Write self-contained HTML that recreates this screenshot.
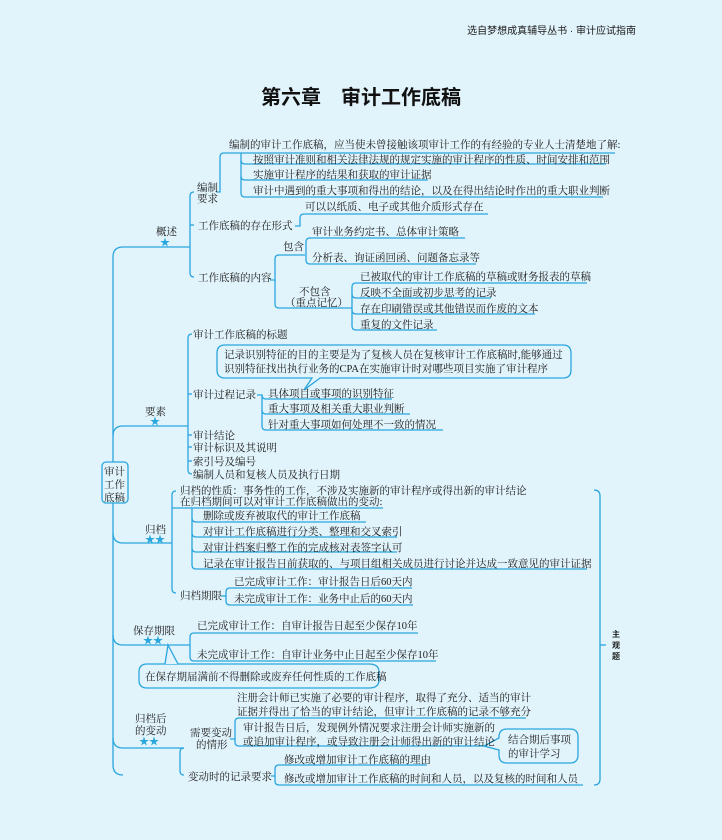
<!DOCTYPE html>
<html><head><meta charset="utf-8"><style>
html,body{margin:0;padding:0;background:#e1f3fb;}
svg{display:block}
text{font-family:"Liberation Serif","Noto Serif CJK SC",serif;font-size:10.5px;fill:#1a1a1a;}
.h{font-family:"Liberation Sans","Noto Sans CJK SC",sans-serif;}
</style></head><body>
<svg width="722" height="840" viewBox="0 0 722 840" xmlns="http://www.w3.org/2000/svg">
<rect width="722" height="840" fill="#e1f3fb"/>
<text class="h" x="636" y="34" text-anchor="end" style="font-size:10px">选自梦想成真辅导丛书 · 审计应试指南</text>
<text class="h" x="361" y="104" text-anchor="middle" style="font-size:20px;font-weight:bold;fill:#111">第六章　审计工作底稿</text>

<g fill="none" stroke="#29a6de" stroke-width="1.3">
<path d="M113,462 L113,257 Q113,247 123,247 L190,247"/>
<path d="M113,503 L113,765 Q113,775 123,775"/>
<path d="M113,436 Q113,426 123,426 L188,426"/>
<path d="M113,533 Q113,543 123,543 L172,543"/>
<path d="M113,635 Q113,645 123,645 L190,645"/>
<path d="M113,738 Q113,748 123,748 L180,748"/>
<rect x="102" y="462" width="26" height="41" rx="4"/>
<path d="M194,192 Q190,192 190,196 L190,273 Q190,277 194,277"/>
<path d="M190,225 L194,225"/>
<path d="M217,192 L220,192 L220,157 Q220,153 224,153 L615,153"/>
<path d="M241,153 L241,193 Q241,197 245,197 L603,197"/>
<path d="M241,160 Q241,164 245,164 L606,164"/>
<path d="M241,176 Q241,180 245,180 L428,180"/>
<path d="M295,226 L300,226 L300,218 Q300,214 304,214 L488,214"/>
<path d="M270,280 L275,280 L275,259 Q275,255 279,255 L305,255"/>
<path d="M275,280 L275,304 Q275,308 279,308 L350,308"/>
<path d="M306,255 L306,242 Q306,238 310,238 L465,238"/>
<path d="M306,255 L306,260 Q306,264 310,264 L476,264"/>
<path d="M350,308 L352,308 L352,287 Q352,283 356,283 L587,283"/>
<path d="M352,294 Q352,298 356,298 L491,298"/>
<path d="M352,310 Q352,314 356,314 L535,314"/>
<path d="M352,308 L352,326 Q352,330 356,330 L437,330"/>
<path d="M192,334 Q188,334 188,338 L188,470 Q188,474 192,474"/>
<path d="M188,394 L192,394"/><path d="M188,435 L192,435"/><path d="M188,447 L192,447"/><path d="M188,461 L192,461"/>
<path d="M225,345 L563,345 Q571,345 571,353 L571,370 Q571,378 563,378 L320,378 L304,390 L312,378 L225,378 Q217,378 217,370 L217,353 Q217,345 225,345 Z"/>
<path d="M257,395 L262,395 L262,395 Q262,399 266,399 L392,399"/>
<path d="M262,395 L262,410 Q262,414 266,414 L410,414"/>
<path d="M262,410 L262,426 Q262,430 266,430 L443,430"/>
<path d="M176,491 Q172,491 172,495 L172,589 Q172,593 176,593"/>
<path d="M172,508 L383,508"/>
<path d="M192,508 L192,518 Q192,522 196,522 L366,522"/>
<path d="M192,518 L192,533 Q192,537 196,537 L397,537"/>
<path d="M192,533 L192,548 Q192,552 196,552 L397,552"/>
<path d="M192,548 L192,565 Q192,569 196,569 L587,569"/>
<path d="M221,596 L226,596 L226,592 Q226,588 230,588 L412,588"/>
<path d="M226,596 L226,601 Q226,605 230,605 L413,605"/>
<path d="M594,490 Q600,490 600,496 L600,779 Q600,785 594,785"/>
<path d="M600,645 L606,645"/>
<path d="M190,645 L190,637 Q190,633 194,633 L418,633"/>
<path d="M190,645 L190,657 Q190,661 194,661 L436,661"/>
<path d="M147,664 L369,664 Q379,664 379,672 L379,680 Q379,688 369,688 L147,688 Q139,688 139,680 L139,672 Q139,664 147,664 Z"/>
<path d="M165,664 L168,645 L178,664" fill="#e1f3fb"/>
<path d="M184,748 Q180,748 180,752 L180,771 Q180,775 184,775"/>
<path d="M180,748 L184,748"/>
<path d="M230,739 L235,739 L235,722 Q235,718 239,718 L526,718"/>
<path d="M235,739 L235,742 Q235,746 239,746 L484,746"/>
<path d="M507,729 L570,729 Q578,729 578,737 L578,755 Q578,763 570,763 L507,763 Q499,763 499,755 L499,750 L484,746 L499,738 L499,737 Q499,729 507,729 Z"/>
<path d="M271,776 L275,776 L275,769 Q275,765 279,765 L427,765"/>
<path d="M275,776 L275,781 Q275,785 279,785 L583,785"/>
</g>

<text x="156" y="235">概述</text>
<text x="160" y="246" style="fill:#29a6de;font-size:10px">★</text>
<text x="197" y="191">编制</text><text x="197" y="202">要求</text>
<text x="229" y="148">编制的审计工作底稿，应当使未曾接触该项审计工作的有经验的专业人士清楚地了解:</text>
<text x="253" y="163">按照审计准则和相关法律法规的规定实施的审计程序的性质、时间安排和范围</text>
<text x="253" y="178">实施审计程序的结果和获取的审计证据</text>
<text x="253" y="194">审计中遇到的重大事项和得出的结论，以及在得出结论时作出的重大职业判断</text>
<text x="198" y="229">工作底稿的存在形式</text>
<text x="305" y="210">可以以纸质、电子或其他介质形式存在</text>
<text x="198" y="281">工作底稿的内容</text>
<text x="283" y="250">包含</text>
<text x="312" y="235">审计业务约定书、总体审计策略</text>
<text x="312" y="261">分析表、询证函回函、问题备忘录等</text>
<text x="299" y="295">不包含</text><text x="285" y="306">（重点记忆）</text>
<text x="360" y="280">已被取代的审计工作底稿的草稿或财务报表的草稿</text>
<text x="360" y="296">反映不全面或初步思考的记录</text>
<text x="360" y="312">存在印刷错误或其他错误而作废的文本</text>
<text x="360" y="328">重复的文件记录</text>

<text x="145" y="415">要素</text>
<text x="150" y="425" style="fill:#29a6de;font-size:10px">★</text>
<text x="193" y="338">审计工作底稿的标题</text>
<text x="224" y="358">记录识别特征的目的主要是为了复核人员在复核审计工作底稿时,能够通过</text>
<text x="224" y="372">识别特征找出执行业务的CPA在实施审计时对哪些项目实施了审计程序</text>
<text x="193" y="398">审计过程记录</text>
<text x="268" y="397">具体项目或事项的识别特征</text>
<text x="268" y="412">重大事项及相关重大职业判断</text>
<text x="268" y="428">针对重大事项如何处理不一致的情况</text>
<text x="193" y="439">审计结论</text>
<text x="193" y="451">审计标识及其说明</text>
<text x="193" y="465">索引号及编号</text>
<text x="193" y="478">编制人员和复核人员及执行日期</text>
<text x="104" y="475">审计</text><text x="104" y="488">工作</text><text x="104" y="501">底稿</text>

<text x="145" y="533">归档</text>
<text x="145" y="543" style="fill:#29a6de;font-size:10px">★★</text>
<text x="180" y="494">归档的性质：事务性的工作，不涉及实施新的审计程序或得出新的审计结论</text>
<text x="180" y="505">在归档期间可以对审计工作底稿做出的变动:</text>
<text x="203" y="519">删除或废弃被取代的审计工作底稿</text>
<text x="203" y="535">对审计工作底稿进行分类、整理和交叉索引</text>
<text x="203" y="551">对审计档案归整工作的完成核对表签字认可</text>
<text x="203" y="567">记录在审计报告日前获取的、与项目组相关成员进行讨论并达成一致意见的审计证据</text>
<text x="180" y="599">归档期限</text>
<text x="234" y="585">已完成审计工作：审计报告日后60天内</text>
<text x="234" y="602">未完成审计工作：业务中止后的60天内</text>
<text class="h" x="612" y="637" style="font-size:8px;font-weight:bold">主</text>
<text class="h" x="612" y="648" style="font-size:8px;font-weight:bold">观</text>
<text class="h" x="612" y="659" style="font-size:8px;font-weight:bold">题</text>

<text x="133" y="634">保存期限</text>
<text x="143" y="644" style="fill:#29a6de;font-size:10px">★★</text>
<text x="197" y="629">已完成审计工作：自审计报告日起至少保存10年</text>
<text x="197" y="658">未完成审计工作：自审计业务中止日起至少保存10年</text>
<text x="145" y="680">在保存期届满前不得删除或废弃任何性质的工作底稿</text>

<text x="135" y="722">归档后</text><text x="135" y="734">的变动</text>
<text x="139" y="745" style="fill:#29a6de;font-size:10px">★★</text>
<text x="190" y="736">需要变动</text><text x="196" y="748">的情形</text>
<text x="237" y="701">注册会计师已实施了必要的审计程序，取得了充分、适当的审计</text>
<text x="237" y="715">证据并得出了恰当的审计结论，但审计工作底稿的记录不够充分</text>
<text x="243" y="731">审计报告日后，发现例外情况要求注册会计师实施新的</text>
<text x="243" y="745">或追加审计程序，或导致注册会计师得出新的审计结论</text>
<text x="508" y="743">结合期后事项</text><text x="508" y="757">的审计学习</text>
<text x="188" y="780">变动时的记录要求</text>
<text x="284" y="763">修改或增加审计工作底稿的理由</text>
<text x="284" y="782">修改或增加审计工作底稿的时间和人员，以及复核的时间和人员</text>
</svg>
</body></html>
